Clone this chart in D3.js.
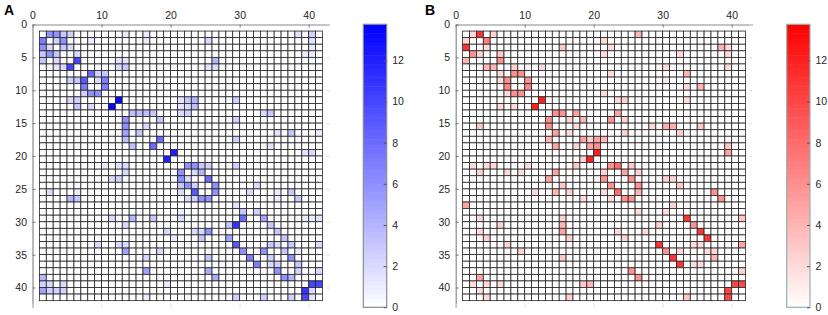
<!DOCTYPE html>
<html>
<head>
<meta charset="utf-8">
<script src="https://cdn.jsdelivr.net/npm/d3@7"></script>
<style>
  body { margin: 0; background: #fff; }
  text { font-family: Arial, "Liberation Sans", sans-serif; }
</style>
</head>
<body>
<div id="chart"></div>
<script>

// ---- DATA ----
const nodes = d3.range(1, 42);            // pcolor cells 1..41 on each side
const xTicks = [0, 10, 20, 30, 40];
const yTicks = [0, 5, 10, 15, 20, 25, 30, 35, 40];
const cbTicks = [0, 2, 4, 6, 8, 10, 12];
const cMax = 13.75;

// [row, col, value]
const cellsA = [
  [1,2,6],[1,3,6],[1,4,3],[1,5,2.5],[1,13,1],[1,16,1],[1,38,1.5],[1,40,2.5],
  [2,1,7],[2,3,2.5],[2,4,6],[2,8,1],[2,16,1],[2,25,2],[2,40,1.5],
  [3,1,6],[3,2,2],[3,4,3],[3,5,2],[3,40,1],
  [4,1,3],[4,2,6],[4,3,3],[4,6,2],[4,39,1],[4,40,1],
  [5,1,3],[5,3,2],[5,6,10],[5,12,1.5],[5,13,1.5],[5,26,4],
  [6,3,1.5],[6,4,2],[6,5,10],[6,12,2],[6,13,3],[6,25,1.5],[6,26,2],
  [7,8,8],[7,9,2.5],[7,10,3],
  [8,5,2.5],[8,6,3],[8,7,9],[8,9,2],[8,10,7],
  [9,7,7],[9,10,7],
  [10,7,2.5],[10,8,6],[10,9,6],
  [11,5,2],[11,6,2.5],[11,12,13.5],[11,21,1.5],[11,22,3],[11,23,4],[11,29,2.5],
  [12,6,3],[12,8,2],[12,11,13.5],[12,21,1.5],[12,22,2],[12,23,3.5],
  [13,14,3.5],[13,15,3.5],[13,16,3.5],[13,17,3],[13,21,2],[13,22,2.5],[13,33,2],[13,34,3],
  [14,13,6],[14,18,3],[14,29,2.5],
  [15,13,6],[15,16,2],
  [16,13,5],[16,15,3],[16,35,1.5],[16,37,3],[16,41,1],
  [17,13,3.5],[17,18,8],[17,29,2.5],
  [18,14,3.5],[18,17,8],[18,34,1.5],
  [19,20,12],[19,39,1.5],[19,40,2],
  [20,19,12],
  [21,10,1],[21,12,1.5],[21,13,2],[21,22,6],[21,23,6],[21,24,3],[21,25,2.5],[21,29,2.5],
  [22,13,2],[22,21,6],[22,23,2],[22,24,4],
  [23,11,2],[23,12,2.5],[23,21,6],[23,22,2],[23,25,8],
  [24,21,3],[24,22,6],[24,23,2.5],[24,26,6],[24,32,2],
  [25,2,2],[25,6,1],[25,21,2],[25,23,9],[25,26,6],[25,31,2],[25,35,1],[25,37,3],
  [26,5,4],[26,6,3],[26,22,2],[26,23,2.5],[26,24,6],[26,25,6],[26,35,1],[26,38,3],
  [27,29,1.5],
  [28,21,1],[28,30,3],[28,32,2.5],
  [29,11,2],[29,14,4],[29,17,3],[29,21,2],[29,30,8],[29,33,5],[29,39,1],[29,40,1],[29,41,1.5],
  [30,13,2],[30,28,3],[30,29,11],[30,34,3],
  [31,19,2],[31,23,2],[31,24,2],[31,25,6],[31,35,3],
  [32,20,1],[32,24,3],[32,28,5],[32,36,3],
  [33,9,2],[33,12,2],[33,13,2],[33,29,9],[33,34,3],[33,35,2],[33,37,3],[33,41,2],
  [34,13,5],[34,18,2],[34,30,6],[34,33,6],[34,36,3],[34,38,1],
  [35,16,2],[35,25,3],[35,31,7],[35,34,2.5],[35,37,6],
  [36,32,7],[36,34,2],[36,35,2.5],[36,38,3],
  [37,16,5],[37,25,4.5],[37,35,6],[37,38,2.5],[37,41,2],
  [38,1,4],[38,26,4.5],[38,36,6],[38,37,4],
  [39,1,2.5],[39,2,2],[39,4,2],[39,19,1],[39,40,10],[39,41,10],
  [40,1,5],[40,2,2.5],[40,3,2.5],[40,4,2.5],[40,39,11],[40,40,2],
  [41,16,1],[41,29,2.5],[41,33,2.5],[41,37,2.5],[41,39,10],[41,40,1.5]
];

const cellsB = [
  [1,2,2],[1,3,11],[1,5,2.5],[1,26,4],
  [2,1,2],[2,4,7],[2,21,2],
  [3,1,11],[3,4,2],[3,15,3],[3,22,2],[3,38,4],[3,39,2],
  [4,2,6],[4,3,2.5],[4,6,3],[4,21,2],[4,32,2],[4,39,2],
  [5,1,4],[5,6,6],
  [6,4,4],[6,5,4],[6,8,2.5],[6,12,2],[6,30,2],[6,39,2],
  [7,6,2],[7,8,6],[7,9,6],[7,22,2],[7,33,4],
  [8,6,2],[8,7,6],[8,10,6],[8,30,1],
  [9,7,6.5],[9,10,6.5],[9,33,2],[9,35,4],
  [10,7,2],[10,8,6],[10,9,6],[10,21,2],
  [11,12,12],[11,23,2],[11,24,2.5],[11,33,2],
  [12,6,2],[12,8,2],[12,11,12],
  [13,14,6],[13,15,6],[13,17,5],[13,23,5],
  [14,13,6],[14,16,2.5],[14,18,4],[14,22,6],[14,24,2.5],
  [15,3,3],[15,13,6],[15,17,2],[15,28,2],[15,30,4.5],[15,31,4.5],[15,35,3],
  [16,14,5],[16,16,2],[16,24,2.5],[16,32,2.5],
  [17,13,4],[17,18,5],[17,19,2.5],[17,20,5],[17,21,4],
  [18,14,5],[18,17,2.5],[18,19,5],[18,20,6],[18,39,3],
  [19,20,12],[19,39,5],
  [20,18,2.5],[20,19,12],
  [21,2,2],[21,4,2],[21,5,2],[21,10,2],[21,17,3],[21,22,6],[21,23,8],[21,25,3],
  [22,3,2.5],[22,7,2],[22,9,2],[22,14,5],[22,21,2.5],[22,24,5],[22,26,2.5],
  [23,13,5],[23,21,6],[23,25,6],[23,30,2.5],[23,31,2.5],
  [24,15,3],[24,22,6],[24,26,6],[24,32,3],
  [25,11,2],[25,14,4],[25,16,2.5],[25,21,2],[25,23,8],[25,26,4],[25,37,6],
  [26,18,2],[26,22,2],[26,24,6],[26,25,6],[26,38,6],
  [27,1,5],[27,31,2.5],
  [28,26,2],[28,30,2],
  [29,3,2],[29,15,2.5],[29,33,11],[29,41,3],
  [30,6,2.5],[30,15,4],[30,29,2.5],[30,34,6],
  [31,3,2],[31,15,5],[31,23,2],[31,27,2],[31,35,11],
  [32,4,2.5],[32,16,2.5],[32,24,2.5],[32,36,11],
  [33,7,2.5],[33,29,11],[33,34,2],[33,35,2],[33,41,5],
  [34,9,2.5],[34,30,6],[34,32,2],[34,36,2],[34,37,2],
  [35,15,3],[35,31,11],[35,37,4],
  [36,32,11],[36,34,2],[36,35,2],
  [37,25,6],[37,41,2.5],
  [38,3,5],[38,26,6],
  [39,2,2],[39,4,2],[39,6,2],[39,18,3],[39,19,4],[39,40,10],[39,41,10],
  [40,3,2],[40,39,10],
  [41,4,2],[41,16,2.5],[41,33,3],[41,39,10]
];


// CHART AREA
let svg = d3.select("#chart").append("svg")
    .attr("width", 828)
    .attr("height", 315);


function drawPanel(p) {

    let x = d3.scaleLinear().domain([0, 43]).range([p.left, p.left + 43 * p.ux]);
    let y = d3.scaleLinear().domain([0, 43]).range([24.5, 24.5 + 43 * 6.575]);
    let color = d3.scaleLinear().domain([0, cMax]).range(["#ffffff", p.hue]);

    // full matrix, zero where nothing was read
    let lookup = new Map(p.cells.map(d => [d[0] + "_" + d[1], d[2]]));
    let grid = [];
    nodes.forEach(r => nodes.forEach(c => grid.push({r: r, c: c, v: lookup.get(r + "_" + c) || 0})));

    let g = svg.append("g");

    // ---- CELLS ----
    g.selectAll(".cell")
        .data(grid)
        .enter()
        .append("rect")
        .attr("class", "cell")
        .attr("x", d => x(d.c))
        .attr("y", d => y(d.r))
        .attr("width", d => x(d.c + 1) - x(d.c))
        .attr("height", d => y(d.r + 1) - y(d.r))
        .attr("fill", d => color(d.v))
        .attr("stroke", "#262626")
        .attr("stroke-width", 0.8);

    // ---- AXES ----
    let xAxis = d3.axisTop(x).tickValues(xTicks).tickSizeInner(-3).tickSizeOuter(0).tickPadding(5.5);
    let yAxis = d3.axisLeft(y).tickValues(yTicks).tickSizeInner(-3).tickSizeOuter(0).tickPadding(5.5);

    let xg = g.append("g").attr("transform", "translate(0," + y(0) + ")").call(xAxis);
    let yg = g.append("g").attr("transform", "translate(" + x(0) + ",0)").call(yAxis);

    // faint ticks on the opposite sides (box off)
    let xg2 = g.append("g").attr("transform", "translate(0," + y(43) + ")")
        .call(d3.axisBottom(x).tickValues(xTicks).tickSizeInner(-3).tickSizeOuter(0).tickFormat(""));
    let yg2 = g.append("g").attr("transform", "translate(" + x(43) + ",0)")
        .call(d3.axisRight(y).tickValues(yTicks).tickSizeInner(-3).tickSizeOuter(0).tickFormat(""));
    [xg2, yg2].forEach(a => {
        a.select(".domain").remove();
        a.selectAll(".tick line").attr("stroke", "#dcdcdc");
    });

    [xg, yg].forEach(a => {
        a.select(".domain").attr("stroke", "#8a8a8a").attr("stroke-width", 1.2);
        a.selectAll(".tick line").attr("stroke", "#777");
        a.selectAll(".tick text").attr("fill", "#262626").style("font-size", "10.5px")
            .style("font-family", "Arial, 'Liberation Sans', sans-serif");
    });

    // panel letter
    g.append("text")
        .attr("x", p.labelX)
        .attr("y", 15)
        .style("font-size", "14px")
        .style("font-weight", "bold")
        .attr("fill", "#000")
        .text(p.label);

    // ---- COLORBAR ----
    let cy = d3.scaleLinear().domain([0, cMax]).range([307.3, 24.3]);
    let steps = d3.range(64);
    let cb = svg.append("g");
    cb.selectAll(".cbstep")
        .data(steps)
        .enter()
        .append("rect")
        .attr("x", p.cbX)
        .attr("y", i => cy((i + 1) * cMax / 64))
        .attr("width", p.cbW)
        .attr("height", i => cy(i * cMax / 64) - cy((i + 1) * cMax / 64) + 0.5)
        .attr("fill", i => color((i + 0.5) * cMax / 64));

    cb.append("rect")
        .attr("x", p.cbX)
        .attr("y", cy(cMax))
        .attr("width", p.cbW)
        .attr("height", cy(0) - cy(cMax))
        .attr("fill", "none")
        .attr("stroke", p.cbStroke)
        .attr("stroke-width", 1.2);

    let cbAxis = d3.axisRight(cy).tickValues(cbTicks).tickSizeInner(-3).tickSizeOuter(0).tickPadding(5.5);
    let cbg = cb.append("g").attr("transform", "translate(" + (p.cbX + p.cbW) + ",0)").call(cbAxis);
    cbg.select(".domain").remove();
    cbg.selectAll(".tick line").attr("stroke", "#555");
    cbg.selectAll(".tick text").attr("fill", "#262626").style("font-size", "10.5px")
        .style("font-family", "Arial, 'Liberation Sans', sans-serif");
}

drawPanel({label: "A", labelX: 4, cells: cellsA, hue: "#0000ff", left: 32.5, ux: 6.905,
           cbX: 363.3, cbW: 23.4, cbStroke: "#8c8c8c"});
drawPanel({label: "B", labelX: 425, cells: cellsB, hue: "#ff0000", left: 455.7, ux: 6.9,
           cbX: 786.7, cbW: 23.3, cbStroke: "#8fb3b3"});

</script>
</body>
</html>
